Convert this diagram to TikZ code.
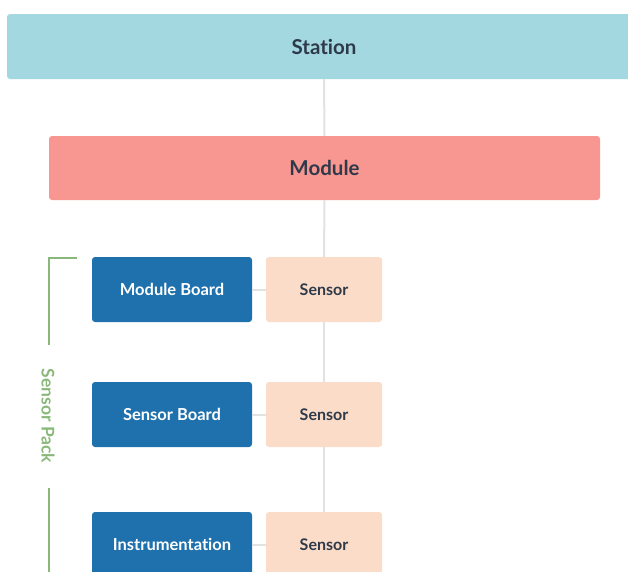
\documentclass[tikz,border=0pt]{standalone}
\usepackage{fontspec}
\setmainfont{Lato}[Ligatures=NoCommon]
\definecolor{stationc}{HTML}{A3D8E1}
\definecolor{modulec}{HTML}{F89791}
\definecolor{boardc}{HTML}{1F71AD}
\definecolor{sensorc}{HTML}{FBDCC8}
\definecolor{textc}{HTML}{2E3A4A}
\definecolor{packc}{HTML}{8AB87A}
\definecolor{linec}{HTML}{E2E2E2}
\begin{document}
\begin{tikzpicture}[x=1pt,y=-1pt,
  box/.style={rounded corners=3pt, inner sep=0pt, align=center},
  topbox/.style={box, font=\fontsize{20.5}{24}\selectfont\bfseries, text=textc},
  boardbox/.style={box, fill=boardc, text=white, minimum width=160pt, minimum height=65pt, font=\fontsize{16.5}{19}\selectfont\bfseries},
  sensorbox/.style={box, fill=sensorc, text=textc, minimum width=116pt, minimum height=65pt, font=\fontsize{16}{19}\selectfont\bfseries},
  conn/.style={draw=linec, line width=2pt},
  pack/.style={draw=packc, line width=1.5pt}]
\useasboundingbox (0,0) rectangle (628,571);
\clip (0,0) rectangle (628,571);
% nodes
\node[topbox, fill=stationc, minimum width=634pt, minimum height=65pt] (station) at (324,46.5) {Station};
\node[topbox, fill=modulec, minimum width=551pt, minimum height=64pt] (module) at (324.5,168) {Module};
\node[boardbox] (mb) at (172,289.5) {Module Board};
\node[sensorbox] (s1) at (324,289.5) {Sensor};
\node[boardbox] (sb) at (172,414.5) {Sensor Board};
\node[sensorbox] (s2) at (324,414.5) {Sensor};
\node[boardbox] (ins) at (172,544.5) {Instrumentation};
\node[sensorbox] (s3) at (324,544.5) {Sensor};
% connectors
\draw[conn] (station.south) -- (module.north);
\draw[conn] (module.south) -- (s1.north);
\draw[conn] (s1.south) -- (s2.north);
\draw[conn] (s2.south) -- (s3.north);
\draw[conn] (mb.east) -- (s1.west);
\draw[conn] (sb.east) -- (s2.west);
\draw[conn] (ins.east) -- (s3.west);
% sensor pack bracket
\node[rotate=-90, text=packc, font=\fontsize{17.5}{20}\selectfont\bfseries] (packlabel) at (48,416) {Sensor Pack};
\coordinate (bt) at (77,258);
\coordinate (bc) at (49,258);
\coordinate (bmid1) at (49,345);
\coordinate (bmid2) at (49,488);
\coordinate (bend) at (49,580);
\draw[pack] (bt) -- (bc) -- (bmid1);
\draw[pack] (bmid2) -- (bend);
\end{tikzpicture}
\end{document}
